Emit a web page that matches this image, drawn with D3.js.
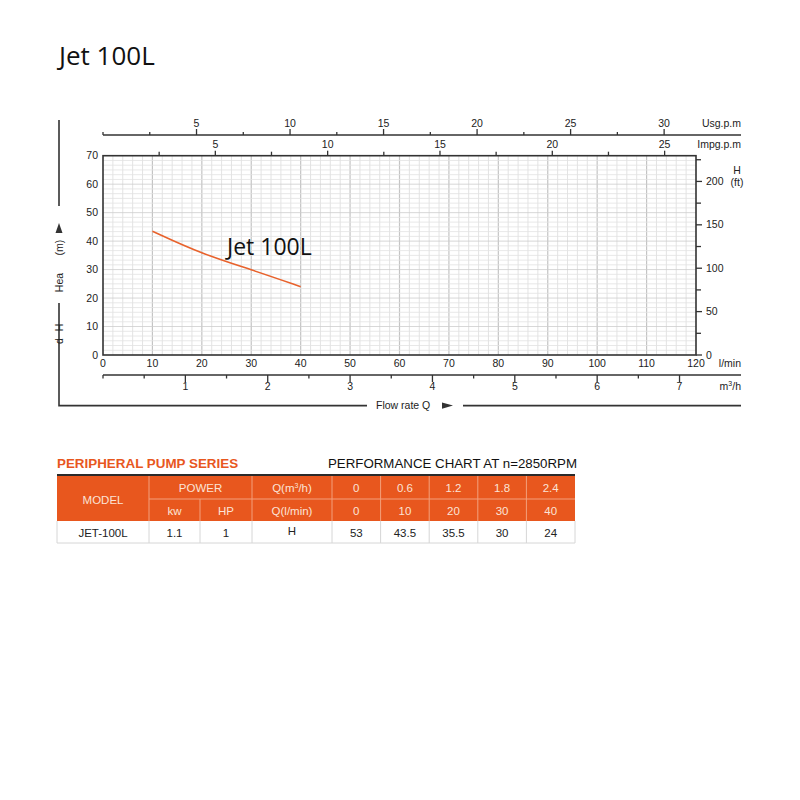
<!DOCTYPE html>
<html>
<head>
<meta charset='utf-8'>
<title>Jet 100L</title>
<script src='https://d3js.org/d3.v7.min.js'></script>
<style>
  body {margin:0; background:#fff;}
  .ax {font-family:'Liberation Sans',Arial,sans-serif; font-size:10.5px; fill:#222;}
  .ttl {font-family:'Open Sans',sans-serif; fill:#111;}
  .th {font-family:'Liberation Sans',Arial,sans-serif; font-size:11.5px; fill:#fbe3d6;}
  .td {font-family:'Liberation Sans',Arial,sans-serif; font-size:11.5px; fill:#222;}
</style>
</head>
<body>
<svg id='chart' width='800' height='800'></svg>
<script>
// pump data (table + curve)
const flowM3h=[0,0.6,1.2,1.8,2.4];
const flowLmin=[0,10,20,30,40];
const headM=[53,43.5,35.5,30,24];
const curveFrom=10;   // curve on chart starts at 10 l/min
const model='JET-100L', kw='1.1', hp='1';

// axis ticks
const lminTicks=d3.range(0,121,10);
const headTicks=d3.range(0,71,10);
const usgMajor=[5,10,15,20,25,30], usgMinor=[0,2.5,7.5,12.5,17.5,22.5,27.5];
const impMajor=[5,10,15,20,25], impMinor=[2.5,7.5,12.5,17.5,22.5];
const m3hMajor=[1,2,3,4,5,6,7], m3hMinor=[0,0.5,1.5,2.5,3.5,4.5,5.5,6.5];
const ftMajor=[0,50,100,150,200], ftMinor=[25,75,125,175,225];

const svg=d3.select('#chart');
const L=103,R=696,T=155.7,B=355;
const x=d3.scaleLinear().domain([0,120]).range([L,R]);
const y=d3.scaleLinear().domain([0,70]).range([B,T]);
const xUsg=d3.scaleLinear().domain([0,120/3.785]).range([L,R]);
const xImp=d3.scaleLinear().domain([0,120/4.546]).range([L,R]);
const xM3=d3.scaleLinear().domain([0,7.2]).range([L,R]);
const yFt=d3.scaleLinear().domain([0,70*3.2808]).range([B,T]);
const dark='#333';

svg.append('text').attr('class','ttl').attr('x',59).attr('y',65)
   .attr('font-size',26).text('Jet 100L');

// grid
const g=svg.append('g');
g.selectAll('.vx').data(d3.range(2,120,2)).join('line')
 .attr('x1',d=>x(d)).attr('x2',d=>x(d)).attr('y1',T).attr('y2',B)
 .attr('stroke',d=>d%10===0?'#c4c4c4':'#dcdcdc').attr('stroke-width',d=>d%10===0?1.2:0.8);
g.selectAll('.hy').data(d3.range(1,42)).join('line')
 .attr('x1',L).attr('x2',R).attr('y1',d=>y(d*10/6)).attr('y2',d=>y(d*10/6))
 .attr('stroke',d=>d%6===0?'#cdcdcd':'#e2e2e2').attr('stroke-width',0.8);
svg.append('rect').attr('x',L).attr('y',T).attr('width',R-L).attr('height',B-T)
   .attr('fill','none').attr('stroke',dark).attr('stroke-width',1.6);

// top axes
svg.append('line').attr('x1',L).attr('x2',741).attr('y1',135).attr('y2',135)
   .attr('stroke',dark).attr('stroke-width',1.6);
svg.append('g').selectAll('line').data(usgMajor.map(v=>[v,6]).concat(usgMinor.map(v=>[v,3]))).join('line')
   .attr('x1',d=>xUsg(d[0])).attr('x2',d=>xUsg(d[0])).attr('y1',135).attr('y2',d=>135-d[1])
   .attr('stroke',dark).attr('stroke-width',1.3);
svg.append('g').selectAll('text').data(usgMajor).join('text').attr('class','ax')
   .attr('x',d=>xUsg(d)).attr('y',127).attr('text-anchor','middle').text(d=>d);
svg.append('g').selectAll('line').data(impMajor.map(v=>[v,5]).concat(impMinor.map(v=>[v,4]))).join('line')
   .attr('x1',d=>xImp(d[0])).attr('x2',d=>xImp(d[0])).attr('y1',T).attr('y2',d=>T-d[1])
   .attr('stroke',dark).attr('stroke-width',1.3);
svg.append('g').selectAll('text').data(impMajor).join('text').attr('class','ax')
   .attr('x',d=>xImp(d)).attr('y',148).attr('text-anchor','middle').text(d=>d);
svg.append('text').attr('class','ax').attr('x',741).attr('y',127).attr('text-anchor','end').text('Usg.p.m');
svg.append('text').attr('class','ax').attr('x',741).attr('y',148).attr('text-anchor','end').text('Impg.p.m');

// left head axis labels
svg.append('g').selectAll('text').data(headTicks).join('text').attr('class','ax')
   .attr('x',98).attr('y',d=>y(d)+3.5).attr('text-anchor','end').text(d=>d);

// right ft axis
svg.append('g').selectAll('line').data(ftMajor.map(v=>[v,6]).concat(ftMinor.map(v=>[v,5]))).join('line')
   .attr('x1',R).attr('x2',d=>R+d[1]).attr('y1',d=>yFt(d[0])).attr('y2',d=>yFt(d[0]))
   .attr('stroke',dark).attr('stroke-width',1.3);
svg.append('g').selectAll('text').data(ftMajor).join('text').attr('class','ax')
   .attr('x',706).attr('y',d=>yFt(d)+3.5).text(d=>d);
svg.append('text').attr('class','ax').attr('x',737).attr('y',174).attr('text-anchor','middle').text('H');
svg.append('text').attr('class','ax').attr('x',737).attr('y',185.5).attr('text-anchor','middle').text('(ft)');

// bottom l/min labels
svg.append('g').selectAll('text').data(lminTicks).join('text').attr('class','ax')
   .attr('x',d=>x(d)).attr('y',367).attr('text-anchor','middle').text(d=>d);
svg.append('text').attr('class','ax').attr('x',741).attr('y',367).attr('text-anchor','end').text('l/min');

// m3/h axis
svg.append('line').attr('x1',L).attr('x2',741).attr('y1',375).attr('y2',375)
   .attr('stroke',dark).attr('stroke-width',1.6);
svg.append('g').selectAll('line').data(m3hMajor.map(v=>[v,7]).concat(m3hMinor.map(v=>[v,3.5]))).join('line')
   .attr('x1',d=>xM3(d[0])).attr('x2',d=>xM3(d[0])).attr('y1',375).attr('y2',d=>375+d[1])
   .attr('stroke',dark).attr('stroke-width',1.3);
svg.append('g').selectAll('text').data(m3hMajor).join('text').attr('class','ax')
   .attr('x',d=>xM3(d)).attr('y',390).attr('text-anchor','middle').text(d=>d);
const m3=svg.append('text').attr('class','ax').attr('x',741).attr('y',390).attr('text-anchor','end');
m3.append('tspan').text('m');
m3.append('tspan').attr('font-size',7).attr('dy',-4).text('3');
m3.append('tspan').attr('dy',4).text('/h');

// outer frame lines + labels
svg.append('path').attr('d','M59,120V206M59,303V405.6H367M463,405.6H741')
   .attr('fill','none').attr('stroke',dark).attr('stroke-width',1.6);
svg.append('text').attr('class','ax').attr('x',376).attr('y',409).text('Flow rate Q');
svg.append('path').attr('d','M442,402.5L453,405.6L442,408.7Z').attr('fill',dark);
const rot=(t,cy)=>svg.append('text').attr('class','ax').attr('text-anchor','middle')
   .attr('transform',`translate(63,${cy}) rotate(-90)`).text(t);
rot('Hea',282.5); rot('(m)',247.5);
svg.append('path').attr('d','M55.5,233L59,223L62.5,233Z').attr('fill',dark);
rot('H',327.5); rot('d',341);

// curve
const pts=flowLmin.map((q,i)=>[q,headM[i]]).filter(d=>d[0]>=curveFrom);
svg.append('path').datum(pts)
   .attr('d',d3.line().curve(d3.curveBasis).x(d=>x(d[0])).y(d=>y(d[1])))
   .attr('fill','none').attr('stroke','#e8622c').attr('stroke-width',1.6);
svg.append('text').attr('class','ttl').attr('x',227).attr('y',255)
   .attr('font-size',23).text('Jet 100L');

// table
const orange='#e8571e', sep='#f3a07c';
svg.append('text').attr('x',57).attr('y',468).attr('fill',orange)
   .attr('font-family',"'Liberation Sans',Arial,sans-serif").attr('font-weight','bold')
   .attr('font-size',13.4).text('PERIPHERAL PUMP SERIES');
svg.append('text').attr('x',577).attr('y',468).attr('text-anchor','end').attr('fill','#111')
   .attr('font-family',"'Liberation Sans',Arial,sans-serif").attr('font-size',13.3)
   .attr('textLength',249).text('PERFORMANCE CHART AT n=2850RPM');
const colX=[57,149,200,252,332,380.6,429.2,477.8,526.4,575];
const tb=svg.append('g');
tb.append('rect').attr('x',57).attr('y',476).attr('width',518).attr('height',45).attr('fill',orange);
tb.append('line').attr('x1',57).attr('x2',575).attr('y1',475).attr('y2',475).attr('stroke','#2a2a2a').attr('stroke-width',2);
// header separators
tb.append('line').attr('x1',149).attr('x2',575).attr('y1',499).attr('y2',499).attr('stroke',sep);
tb.selectAll('.vs').data(colX.slice(1,-1)).join('line')
  .attr('x1',d=>d).attr('x2',d=>d).attr('y1',d=>d===200?499:476).attr('y2',521)
  .attr('stroke',sep);
tb.selectAll('.vd').data(colX).join('line')
  .attr('x1',d=>d).attr('x2',d=>d).attr('y1',521).attr('y2',543).attr('stroke','#d6d6d6');
tb.append('line').attr('x1',57).attr('x2',575).attr('y1',543).attr('y2',543).attr('stroke','#d6d6d6');
const cx=i=>(colX[i]+colX[i+1])/2;
const th=(t,x0,y0)=>tb.append('text').attr('class','th').attr('x',x0).attr('y',y0).attr('text-anchor','middle').text(t);
th('MODEL',cx(0),504); th('POWER',(149+252)/2,492); th('kw',cx(1),514.5); th('HP',cx(2),514.5);
const q1=th('Q(m',cx(3),492); q1.append('tspan').attr('font-size',7).attr('dy',-4).text('3');
q1.append('tspan').attr('dy',4).text('/h)');
th('Q(l/min)',cx(3),514.5);
flowM3h.forEach((v,i)=>th(v,cx(4+i),492));
flowLmin.forEach((v,i)=>th(v,cx(4+i),514.5));
const td=(t,x0,y0)=>tb.append('text').attr('class','td').attr('x',x0).attr('y',y0).attr('text-anchor','middle').text(t);
td(model,cx(0),537); td(kw,cx(1),537); td(hp,cx(2),537); td('H',cx(3),535);
headM.forEach((v,i)=>td(v,cx(4+i),537));
</script>
</body>
</html>
